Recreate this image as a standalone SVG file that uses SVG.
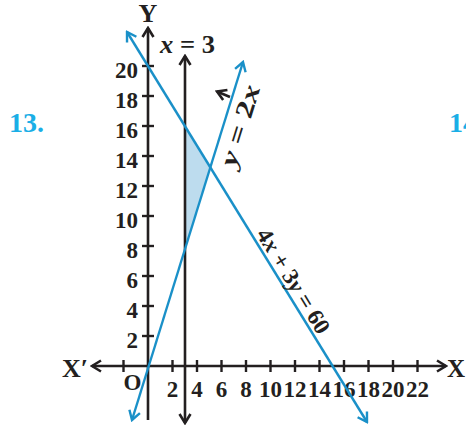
<svg xmlns="http://www.w3.org/2000/svg" width="466" height="430" viewBox="0 0 466 430">
<style>
.ax{stroke:#231f20;stroke-width:2.6;fill:none}
.bl{stroke:#1a90c8;stroke-width:2.4;fill:none}
.tk{stroke:#231f20;stroke-width:2.4}
.num{font-family:"Liberation Serif","Times New Roman",serif;font-weight:bold;font-size:23px;fill:#231f20}
.lbl{font-family:"Liberation Serif","Times New Roman",serif;font-weight:bold;font-size:26px;fill:#231f20}
.it{font-style:italic}
.qn{font-family:"Liberation Serif","Times New Roman",serif;font-weight:bold;font-size:28px;fill:#1aaee6}
</style>
<defs>
<marker id="ak" viewBox="-11 -7 13 14" refX="0" refY="0" markerWidth="13" markerHeight="14" markerUnits="userSpaceOnUse" orient="auto-start-reverse">
<path d="M-9,-5.5 L0,0 L-9,5.5" fill="none" stroke="#231f20" stroke-width="2.6"/>
</marker>
<marker id="ab" viewBox="-11 -7 13 14" refX="0" refY="0" markerWidth="13" markerHeight="14" markerUnits="userSpaceOnUse" orient="auto-start-reverse">
<path d="M-9,-5.5 L0,0 L-9,5.5" fill="none" stroke="#1a90c8" stroke-width="2.4"/>
</marker>
</defs>
<rect width="466" height="430" fill="#ffffff"/>
<g id="region">
<polygon points="185,126.3 185,249 210.3,167.4" fill="#bddcee"/>
</g>
<g id="axes">
<line class="ax" x1="148" y1="420" x2="148" y2="28" marker-end="url(#ak)"/>
<line class="ax" x1="92" y1="366" x2="446" y2="366" marker-start="url(#ak)" marker-end="url(#ak)"/>
<g class="tk">
<line x1="142" y1="336" x2="154" y2="336"/><line x1="142" y1="306" x2="154" y2="306"/>
<line x1="142" y1="276" x2="154" y2="276"/><line x1="142" y1="246" x2="154" y2="246"/>
<line x1="142" y1="216" x2="154" y2="216"/><line x1="142" y1="186" x2="154" y2="186"/>
<line x1="142" y1="156" x2="154" y2="156"/><line x1="142" y1="126" x2="154" y2="126"/>
<line x1="142" y1="96" x2="154" y2="96"/><line x1="142" y1="66" x2="154" y2="66"/>
<line x1="123.5" y1="360" x2="123.5" y2="372"/><line x1="172.5" y1="360" x2="172.5" y2="372"/>
<line x1="197" y1="360" x2="197" y2="372"/><line x1="221.5" y1="360" x2="221.5" y2="372"/>
<line x1="246" y1="360" x2="246" y2="372"/><line x1="270.5" y1="360" x2="270.5" y2="372"/>
<line x1="295" y1="360" x2="295" y2="372"/><line x1="319.5" y1="360" x2="319.5" y2="372"/>
<line x1="344" y1="360" x2="344" y2="372"/><line x1="368.5" y1="360" x2="368.5" y2="372"/>
<line x1="393" y1="360" x2="393" y2="372"/><line x1="417.5" y1="360" x2="417.5" y2="372"/>
</g>
<g class="num" text-anchor="end">
<text x="138" y="347.5">2</text><text x="138" y="317.5">4</text><text x="138" y="287.5">6</text>
<text x="138" y="257.5">8</text><text x="138" y="227.5">10</text><text x="138" y="197.5">12</text>
<text x="138" y="167.5">14</text><text x="138" y="137.5">16</text><text x="138" y="107.5">18</text>
<text x="138" y="77.5">20</text>
</g>
<g class="num" text-anchor="middle">
<text x="132.5" y="389.5">O</text>
<text x="172.5" y="397">2</text><text x="197" y="397">4</text><text x="221.5" y="397">6</text>
<text x="246" y="397">8</text><text x="270.5" y="397">10</text><text x="295" y="397">12</text>
<text x="319.5" y="397">14</text><text x="344" y="397">16</text><text x="368.5" y="397">18</text>
<text x="393" y="397">20</text><text x="417.5" y="397">22</text>
</g>
<text class="lbl" x="148" y="22" text-anchor="middle">Y</text>
<text class="lbl" x="62" y="377">X′</text>
<text class="lbl" x="447" y="377" style="font-size:25px">X</text>
</g>
<g id="connectors">
<line id="line-x3" class="ax" x1="185" y1="423" x2="185" y2="56" marker-start="url(#ak)" marker-end="url(#ak)"/>
<line id="line-4x3y" class="bl" x1="127" y1="32" x2="367" y2="422" marker-start="url(#ab)" marker-end="url(#ab)"/>
<line id="line-y2x" class="bl" x1="132" y1="420" x2="243" y2="62" marker-start="url(#ab)" marker-end="url(#ab)"/>
<line class="ax" x1="230" y1="97" x2="217" y2="91.5" marker-end="url(#ak)"/>
</g>
<g id="labels">
<text class="lbl" x="160" y="53" style="font-size:25px" textLength="55" lengthAdjust="spacingAndGlyphs"><tspan class="it">x</tspan> = 3</text>
<text class="lbl" x="248" y="128" style="font-size:25px" text-anchor="middle" textLength="84" lengthAdjust="spacingAndGlyphs" transform="rotate(-72.8 248 128)"><tspan class="it">y</tspan> = 2<tspan class="it">x</tspan></text>
<text class="lbl" x="287" y="285" style="font-size:23px" text-anchor="middle" textLength="119" lengthAdjust="spacingAndGlyphs" transform="rotate(58.4 287 285)">4<tspan class="it">x</tspan> + 3<tspan class="it">y</tspan> = 60</text>
<text class="qn" x="9" y="132">13.</text>
<text class="qn" x="449" y="132">14.</text>
</g>
</svg>
